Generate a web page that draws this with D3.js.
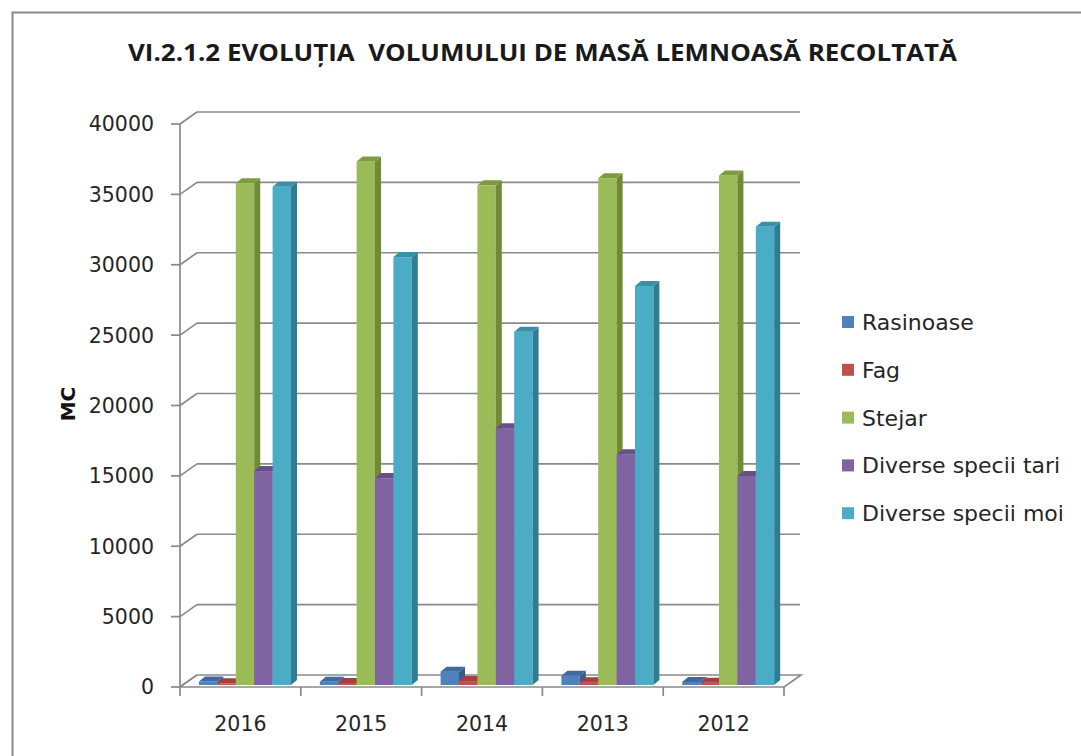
<!DOCTYPE html>
<html lang="ro">
  <head>
    <meta charset="UTF-8" />
    <title>Evoluția volumului de masă lemnoasă recoltată</title>
    <script src="https://d3js.org/d3.v7.min.js"></script>
    <style>
      body {
        margin: 0;
        padding: 0;
        background: #fff;
      }
      svg {
        display: block;
        font-family: "DejaVu Sans", "Open Sans", sans-serif;
      }
      .title {
        white-space: pre;
      }
    </style>
  </head>
  <body>
    <svg width="1081" height="756"></svg>
    <script>
      // date
      const years = ["2016", "2015", "2014", "2013", "2012"];
      const seriesNames = ["Rasinoase", "Fag", "Stejar", "Diverse specii tari", "Diverse specii moi"];
      const rasinoase = [250, 230, 950, 650, 220];
      const fag = [120, 150, 280, 200, 160];
      const stejar = [35650, 37200, 35500, 36000, 36200];
      const speciiTari = [15200, 14700, 18250, 16400, 14850];
      const speciiMoi = [35400, 30400, 25100, 28350, 32550];
      const yTicks = [0, 5000, 10000, 15000, 20000, 25000, 30000, 35000, 40000];

      const seriesValues = [rasinoase, fag, stejar, speciiTari, speciiMoi];
      const colors = [
        { front: "#4f81bd", side: "#385d8a", top: "#3f6aa0" },
        { front: "#c0504d", side: "#8c3836", top: "#a3413f" },
        { front: "#9bbb59", side: "#6f8b36", top: "#7d9c40" },
        { front: "#8064a2", side: "#5c4776", top: "#67508a" },
        { front: "#4bacc6", side: "#2f7d92", top: "#3890a8" },
      ];

      const svg = d3.select("svg");

      // cadru exterior
      svg.append("path")
        .attr("d", "M12.5,756 L12.5,12.5 L1081,12.5")
        .attr("fill", "none")
        .attr("stroke", "#8a8a8a")
        .attr("stroke-width", 2);

      svg.append("text")
        .attr("class", "title")
        .attr("x", 128)
        .attr("y", 61)
        .attr("textLength", 829)
        .attr("lengthAdjust", "spacingAndGlyphs")
        .attr("font-family", "'Open Sans', sans-serif")
        .attr("font-size", 24)
        .attr("font-weight", "bold")
        .attr("fill", "#1a1a1a")
        .text("VI.2.1.2 EVOLUȚIA  VOLUMULUI DE MASĂ LEMNOASĂ RECOLTATĂ");

      // scale
      const depth = { dx: 17, dy: -12 }; // adancimea peretelui
      const y = d3.scaleLinear().domain([0, 40000]).range([687, 124]);
      const x0 = d3.scaleBand().domain(years).range([180, 784]).padding(0);
      const x1 = d3.scaleBand().domain(seriesNames).range([19, 111]).padding(0);

      const grid = svg.append("g")
        .attr("fill", "none")
        .attr("stroke", "#8a8a8a")
        .attr("stroke-width", 1.7);

      // linii de grila pe peretele din spate + diagonale pe peretele lateral
      yTicks.forEach((t) => {
        if (t > 0) {
          grid.append("line")
            .attr("x1", 180 + depth.dx).attr("x2", 800)
            .attr("y1", y(t) + depth.dy).attr("y2", y(t) + depth.dy);
        }
        grid.append("line")
          .attr("x1", 180).attr("x2", 180 + depth.dx)
          .attr("y1", y(t)).attr("y2", y(t) + depth.dy);
        grid.append("line")
          .attr("x1", 171).attr("x2", 180)
          .attr("y1", y(t)).attr("y2", y(t));
      });

      // axa verticala
      grid.append("line")
        .attr("x1", 180).attr("x2", 180)
        .attr("y1", y(40000)).attr("y2", y(0));

      // podeaua
      grid.append("path")
        .attr("d", `M180,${y(0)} L784,${y(0)} L${784 + depth.dx},${y(0) + depth.dy} L${180 + depth.dx},${y(0) + depth.dy} Z`)
        .attr("fill", "#fff");

      // tick-uri axa x
      years.concat(["end"]).forEach((yr, i) => {
        const xx = i < years.length ? x0(yr) : x0.range()[1];
        grid.append("line")
          .attr("x1", xx).attr("x2", xx)
          .attr("y1", y(0)).attr("y2", y(0) + 9);
      });

      // etichete axa y
      svg.append("g")
        .selectAll("text")
        .data(yTicks)
        .join("text")
        .attr("x", 154)
        .attr("y", (d) => y(d))
        .attr("dy", "0.36em")
        .attr("text-anchor", "end")
        .attr("font-size", 20.5)
        .attr("fill", "#262626")
        .text((d) => d);

      svg.append("text")
        .attr("transform", "translate(75,404) rotate(-90)")
        .attr("text-anchor", "middle")
        .attr("font-size", 20)
        .attr("font-weight", "bold")
        .attr("fill", "#111")
        .text("MC");

      // etichete axa x
      svg.append("g")
        .selectAll("text")
        .data(years)
        .join("text")
        .attr("x", (d) => x0(d) + x0.bandwidth() / 2)
        .attr("y", 724)
        .attr("dy", "0.36em")
        .attr("text-anchor", "middle")
        .attr("font-size", 20.5)
        .attr("fill", "#262626")
        .text((d) => d);

      // coloane 3D
      const bd = { dx: 6, dy: -5 };
      const base = 2; // coloanele stau putin in spatele marginii podelei
      const bars = svg.append("g");
      years.forEach((yr, i) => {
        seriesNames.forEach((s, j) => {
          const v = seriesValues[j][i];
          const xl = x0(yr) + x1(s);
          const xr = xl + x1.bandwidth();
          const yt = y(v) - base;
          const yb = y(0) - base;
          const c = colors[j];
          bars.append("rect")
            .attr("x", xl).attr("y", yt)
            .attr("width", xr - xl).attr("height", yb - yt)
            .attr("fill", c.front);
          bars.append("polygon")
            .attr("points", [[xr, yt], [xr + bd.dx, yt + bd.dy], [xr + bd.dx, yb + bd.dy], [xr, yb]].join(" "))
            .attr("fill", c.side);
          bars.append("polygon")
            .attr("points", [[xl, yt], [xl + bd.dx, yt + bd.dy], [xr + bd.dx, yt + bd.dy], [xr, yt]].join(" "))
            .attr("fill", c.top);
        });
      });

      // legenda
      const legend = svg.append("g")
        .selectAll("g")
        .data(seriesNames)
        .join("g")
        .attr("transform", (d, i) => `translate(842,${322 + i * 47.8})`);

      legend.append("rect")
        .attr("x", 0).attr("y", -6)
        .attr("width", 12).attr("height", 12)
        .attr("fill", (d, i) => colors[i].front);

      legend.append("text")
        .attr("x", 20)
        .attr("dy", "0.36em")
        .attr("font-size", 22)
        .attr("fill", "#262626")
        .text((d) => d);
    </script>
  </body>
</html>
